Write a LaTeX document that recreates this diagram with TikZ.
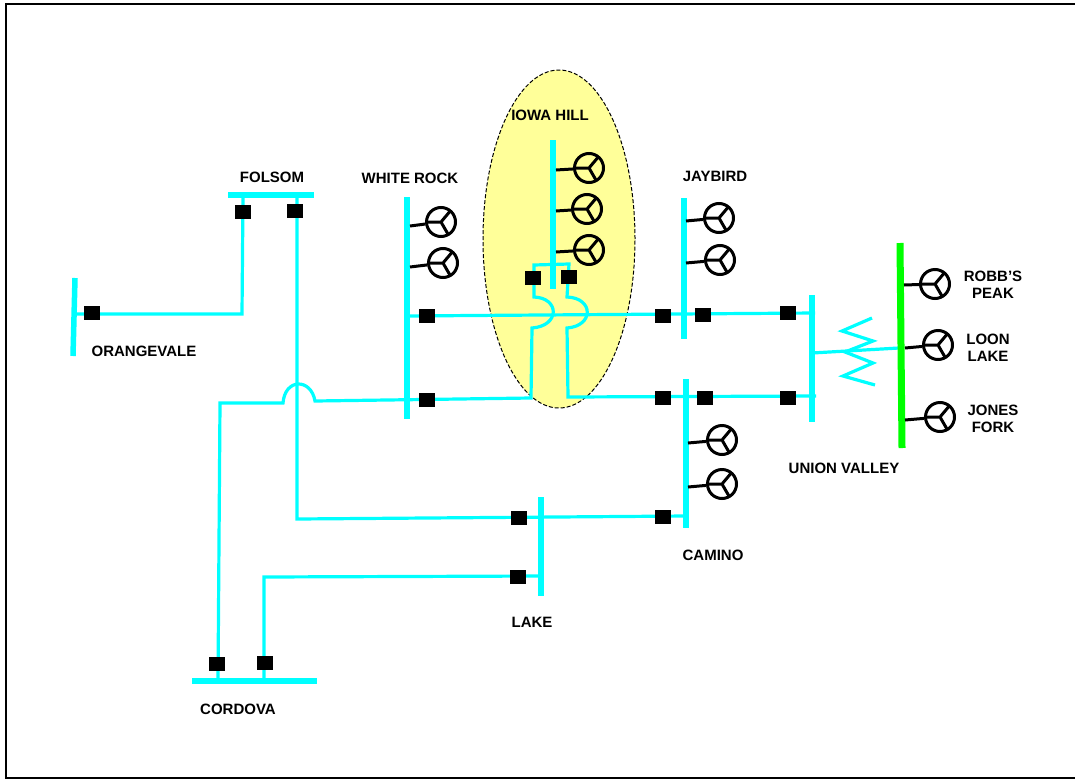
\documentclass[tikz,border=0pt]{standalone}
\usepackage{fontspec}
\setmainfont{Liberation Sans}
\usetikzlibrary{positioning,shapes.geometric}
\definecolor{linecyan}{RGB}{0,255,255}
\definecolor{busgreen}{RGB}{0,255,0}
\definecolor{zonefill}{RGB}{255,255,153}
\tikzset{
	line/.style={color=linecyan, line width=3.2pt},
	bus/.style={color=linecyan, line width=5.5pt},
	greenbus/.style={color=busgreen, line width=7pt},
	stub/.style={color=black, line width=3pt},
	brk/.style={rectangle,fill=black,inner sep=0,minimum width=16pt,minimum height=14pt},
	gen/.style={circle,draw=black,line width=3pt,inner sep=0,minimum size=29pt,
		path picture={
			\draw[black,line width=3pt] (path picture bounding box.center) -- ++(-16pt,0pt)
			(path picture bounding box.center) -- ++(50:17pt)
			(path picture bounding box.center) -- ++(-60:17pt);
		}},
	lbl/.style={font=\bfseries\fontsize{15}{17}\selectfont, align=center, inner sep=0},
	zone/.style={ellipse,draw=black,dash pattern=on 4pt off 2pt,line width=1pt,fill=zonefill}
}
\begin{document}
\begin{tikzpicture}[x=1pt,y=-1pt]
	\useasboundingbox (0,0) rectangle (1075,779);
	\coordinate (fr1) at (1075,4);
	\coordinate (fr2) at (6,4);
	\coordinate (fr3) at (6,778);
	\coordinate (fr4) at (1075,778);
	\draw[black,line width=2pt] (fr1) -- (fr2) -- (fr3) -- (fr4);
	%%%Iowa Hill zone
	\node[zone,minimum width=152pt,minimum height=338pt,inner sep=0] (iowazone) at (559,239) {};

	%%%labels
	\node[lbl] (folsom) at (272,177) {FOLSOM};
	\node[lbl] (whiterock) at (410,178) {WHITE ROCK};
	\node[lbl] (iowahill) at (550,115) {IOWA HILL};
	\node[lbl] (jaybird) at (715,176) {JAYBIRD};
	\node[lbl] (robbs) at (993,284.5) {ROBB'S\\PEAK};
	\node[lbl] (loon) at (988,348) {LOON\\LAKE};
	\node[lbl] (jones) at (993,418.5) {JONES\\FORK};
	\node[lbl] (unionvalley) at (844,468) {UNION VALLEY};
	\node[lbl] (camino) at (713,555) {CAMINO};
	\node[lbl] (lake) at (532,622) {LAKE};
	\node[lbl] (cordova) at (238,709) {CORDOVA};
	\node[lbl] (orangevale) at (144,351) {ORANGEVALE};

	%%%bus ends
	\coordinate (fo1) at (228,195);
	\coordinate (fo2) at (314,195);
	\coordinate (or1) at (75,278);
	\coordinate (or2) at (73,356);
	\coordinate (wr1) at (407,197);
	\coordinate (wr2) at (407,419);
	\coordinate (ih1) at (553,140);
	\coordinate (ih2) at (553,289);
	\coordinate (jb1) at (684,198);
	\coordinate (jb2) at (684,339);
	\coordinate (ca1) at (686,379);
	\coordinate (ca2) at (686,528);
	\coordinate (uv1) at (812,295);
	\coordinate (uv2) at (812,422);
	\coordinate (gr1) at (900,243);
	\coordinate (gr2) at (902,448);
	\coordinate (la1) at (541,497);
	\coordinate (la2) at (541,596);
	\coordinate (co1) at (192,681);
	\coordinate (co2) at (317,681);

	%%%line corners
	\coordinate (a1) at (75,314);
	\coordinate (a2) at (242,314);
	\coordinate (a3) at (243,195);
	\coordinate (b1) at (297,195);
	\coordinate (b2) at (297,519);
	\coordinate (b3) at (686,516);
	\coordinate (c1) at (405,316);
	\coordinate (c2) at (815,313);
	\coordinate (d1) at (218,681);
	\coordinate (d2) at (220,403);
	\coordinate (d3) at (283,403);
	\coordinate (d4) at (315,401);
	\coordinate (d5) at (531,398);
	\coordinate (d6) at (532,328);
	\coordinate (d7) at (534,297);
	\coordinate (d8) at (534,265);
	\coordinate (d9) at (569,264);
	\coordinate (e1) at (567,297);
	\coordinate (e2) at (567,328);
	\coordinate (e3) at (568,397);
	\coordinate (e4) at (816,396);
	\coordinate (f1) at (264,681);
	\coordinate (f2) at (264,577);
	\coordinate (f3) at (541,576);
	\coordinate (t1) at (812,353);
	\coordinate (t2) at (899,348);
	\coordinate (z1) at (872,318);
	\coordinate (z2) at (842,331);
	\coordinate (z3) at (873,341);
	\coordinate (z4) at (845,352);
	\coordinate (z5) at (873,363);
	\coordinate (z6) at (843,376);
	\coordinate (z7) at (875,385);

	\draw[line] (a1) -- (a2) -- (a3);
	\draw[line] (b1) -- (b2) -- (b3);
	\draw[line] (c1) -- (c2);
	\draw[line] (d1) -- (d2) -- (d3) .. controls (285,378) and (311,378) .. (d4) -- (d5) -- (d6)
		.. controls (560,326) and (560,298) .. (d7) -- (d8) -- (d9) -- (e1)
		.. controls (594,298) and (594,326) .. (e2) -- (e3) -- (e4);
	\draw[line] (f1) -- (f2) -- (f3);
	\draw[line] (t1) -- (t2);
	\draw[line] (z1) -- (z2) -- (z3) -- (z4) -- (z5) -- (z6) -- (z7);

	%%%buses
	\draw[bus] (fo1) -- (fo2);
	\draw[bus] (or1) -- (or2);
	\draw[bus] (wr1) -- (wr2);
	\draw[bus,line width=6.5pt] (ih1) -- (ih2);
	\draw[bus] (jb1) -- (jb2);
	\draw[bus] (ca1) -- (ca2);
	\draw[bus] (uv1) -- (uv2);
	\draw[bus] (la1) -- (la2);
	\draw[bus] (co1) -- (co2);
	\draw[greenbus] (gr1) -- (gr2);

	%%%breakers
	\node[brk] (bfo1) at (243,212) {};
	\node[brk] (bfo2) at (295,211) {};
	\node[brk] (bor) at (92,313) {};
	\node[brk] (bwr1) at (427,316) {};
	\node[brk] (bwr2) at (427,400) {};
	\node[brk] (bih1) at (533,278) {};
	\node[brk] (bih2) at (569,277) {};
	\node[brk] (bjb1) at (663,316) {};
	\node[brk] (bjb2) at (703,315) {};
	\node[brk] (buv1) at (788,313) {};
	\node[brk] (bca1) at (663,398) {};
	\node[brk] (bca2) at (705,398) {};
	\node[brk] (buv2) at (788,398) {};
	\node[brk] (bca3) at (663,517) {};
	\node[brk] (bla1) at (519,518) {};
	\node[brk] (bla2) at (518,577) {};
	\node[brk] (bco1) at (217,664) {};
	\node[brk] (bco2) at (265,663) {};

	%%%generators
	\node[gen] (gwr1) at (441,222) {};
	\node[gen] (gwr2) at (443,263) {};
	\node[gen] (gih1) at (589,168) {};
	\node[gen] (gih2) at (587,209) {};
	\node[gen] (gih3) at (589,250) {};
	\node[gen] (gjb1) at (719,218) {};
	\node[gen] (gjb2) at (720,260) {};
	\node[gen] (gca1) at (722,440) {};
	\node[gen] (gca2) at (722,484) {};
	\node[gen] (gro) at (935,284) {};
	\node[gen] (glo) at (938,345) {};
	\node[gen] (gjo) at (940,417) {};

	\coordinate (swr1) at (410,226);
	\coordinate (swr2) at (410,267);
	\coordinate (sih1) at (556,170);
	\coordinate (sih2) at (556,211);
	\coordinate (sih3) at (556,252);
	\coordinate (sjb1) at (686,221);
	\coordinate (sjb2) at (686,263);
	\coordinate (sca1) at (688,443);
	\coordinate (sca2) at (688,487);
	\coordinate (sro) at (904,285);
	\coordinate (slo) at (905,348);
	\coordinate (sjo) at (905,420);
	\draw[stub] (swr1) -- (gwr1);
	\draw[stub] (swr2) -- (gwr2);
	\draw[stub] (sih1) -- (gih1);
	\draw[stub] (sih2) -- (gih2);
	\draw[stub] (sih3) -- (gih3);
	\draw[stub] (sjb1) -- (gjb1);
	\draw[stub] (sjb2) -- (gjb2);
	\draw[stub] (sca1) -- (gca1);
	\draw[stub] (sca2) -- (gca2);
	\draw[stub] (sro) -- (gro);
	\draw[stub] (slo) -- (glo);
	\draw[stub] (sjo) -- (gjo);
\end{tikzpicture}
\end{document}
